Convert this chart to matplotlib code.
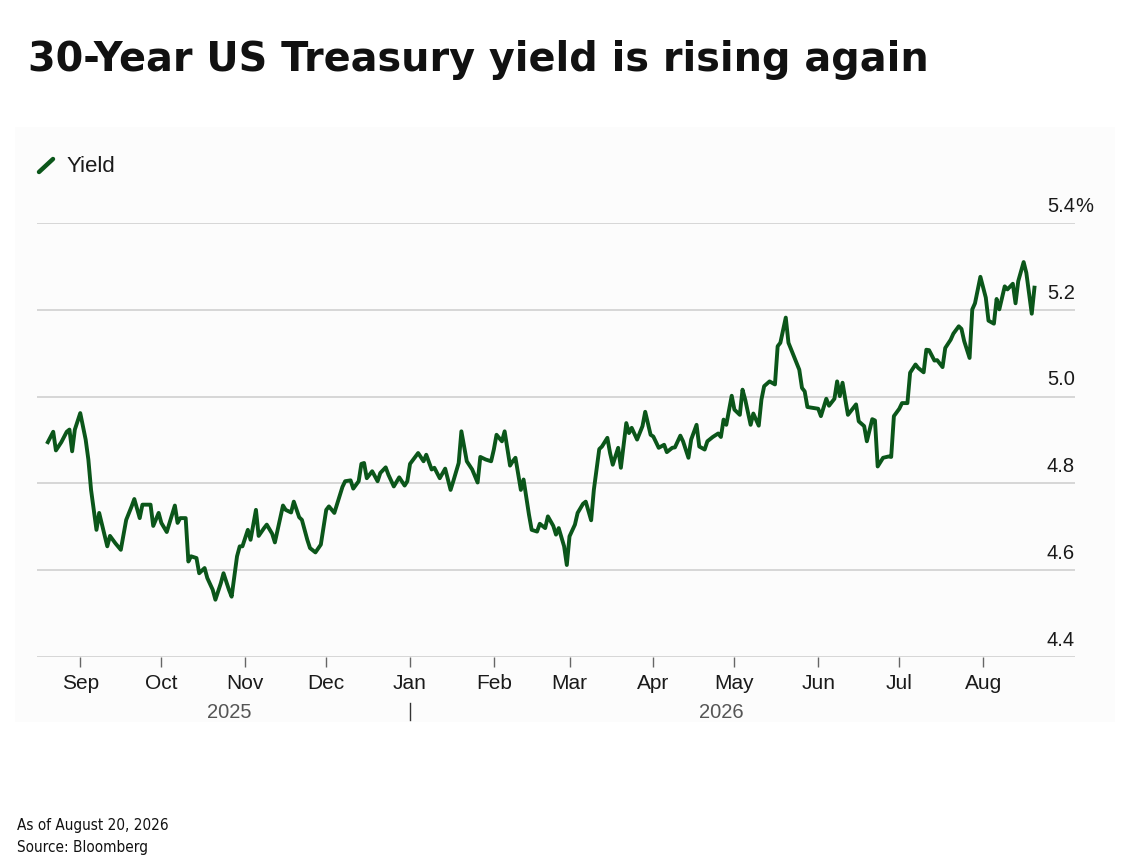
import numpy as np
import matplotlib
matplotlib.use("Agg")
import matplotlib.pyplot as plt
import matplotlib.dates as mdates
import matplotlib.transforms as mtransforms
from matplotlib.lines import Line2D
from matplotlib.patches import Rectangle

# data: days counted from 1 Sep 2025, yield in %
base_date = np.datetime64("2025-09-01")
day_offsets = [
    -12, -10, -9, -7, -5, -4, -3, -2, 0, 2, 3, 4, 6, 7, 10, 11, 13, 15, 17, 19,
    20, 22, 23, 26, 27, 29, 30, 32, 35, 36, 37, 39, 40, 41, 43, 44, 46, 47, 49, 50,
    52, 53, 55, 56, 58, 59, 60, 62, 63,
    65, 66, 68, 69, 71, 72, 75, 76, 78, 79, 81, 82, 84, 85, 87, 89, 91, 92, 94, 97,
    98, 100, 101, 103, 104, 105, 106, 108, 110, 111, 113, 114, 116, 118, 120, 121,
    122, 125, 127, 128, 130, 131, 133, 135, 137,
    138, 140, 141, 143, 145, 147, 148, 150, 152, 153, 154, 156, 157, 159, 160, 161,
    163, 164, 166, 167, 169, 170, 172, 173, 175, 176, 177, 179, 180, 181, 183, 184,
    186, 187, 189, 190, 192, 193, 195, 196, 197, 199, 200, 202, 203, 204, 206, 208,
    209, 211,
    212, 214, 216, 217, 219, 220, 222, 223, 225, 226, 228, 229, 231, 232, 234, 236,
    237, 238, 239, 241, 242, 244, 245, 246, 248, 249, 251, 252, 253, 255, 257, 258,
    259, 261, 262, 264, 266, 267, 268, 269, 271, 273, 274, 276, 277, 279, 280, 281,
    282, 284, 285,
    287, 288, 290, 291, 293, 294, 295, 297, 299, 300, 301, 303, 304, 306, 307, 309,
    310, 312, 313, 314, 316, 317, 319, 320, 322, 323, 325, 326, 327, 329, 330, 331,
    333, 335, 336, 338, 339, 340, 342, 343, 345, 346, 347, 349, 350, 352, 353,
]
yields = [
    4.895, 4.919, 4.876, 4.895, 4.919, 4.924, 4.874, 4.924, 4.962, 4.901, 4.855, 4.785,
    4.693, 4.732, 4.655, 4.679, 4.662, 4.647, 4.716, 4.747, 4.764, 4.720, 4.751, 4.751,
    4.702, 4.732, 4.709, 4.688, 4.749, 4.709, 4.720, 4.720, 4.620, 4.632, 4.628, 4.593,
    4.605, 4.582, 4.555, 4.532, 4.570, 4.593, 4.555, 4.539, 4.632, 4.655, 4.655, 4.693,
    4.670,
    4.739, 4.679, 4.697, 4.705, 4.684, 4.664, 4.749, 4.739, 4.733, 4.758, 4.722, 4.716,
    4.670, 4.651, 4.641, 4.659, 4.739, 4.747, 4.732, 4.792, 4.805, 4.807, 4.788, 4.805,
    4.845, 4.847, 4.812, 4.828, 4.805, 4.824, 4.837, 4.820, 4.793, 4.814, 4.795, 4.805,
    4.845, 4.870, 4.851, 4.866, 4.832, 4.836, 4.812, 4.834, 4.785,
    4.805, 4.847, 4.920, 4.851, 4.832, 4.802, 4.861, 4.855, 4.851, 4.878, 4.912, 4.897,
    4.920, 4.841, 4.851, 4.859, 4.785, 4.809, 4.728, 4.693, 4.689, 4.707, 4.697, 4.724,
    4.702, 4.682, 4.697, 4.655, 4.612, 4.678, 4.705, 4.732, 4.753, 4.758, 4.715, 4.785,
    4.879, 4.885, 4.905, 4.870, 4.843, 4.882, 4.836, 4.939, 4.916, 4.928, 4.901, 4.932,
    4.965, 4.912,
    4.908, 4.882, 4.889, 4.872, 4.882, 4.883, 4.910, 4.897, 4.859, 4.901, 4.935, 4.885,
    4.878, 4.897, 4.907, 4.915, 4.907, 4.947, 4.935, 5.002, 4.970, 4.958, 5.016, 4.993,
    4.935, 4.961, 4.933, 4.993, 5.024, 5.035, 5.028, 5.116, 5.124, 5.182, 5.124, 5.093,
    5.062, 5.020, 5.012, 4.976, 4.974, 4.972, 4.955, 4.995, 4.979, 4.995, 5.035, 5.001,
    5.032, 4.958, 4.966,
    4.982, 4.943, 4.932, 4.897, 4.948, 4.945, 4.839, 4.859, 4.862, 4.861, 4.955, 4.972,
    4.985, 4.985, 5.055, 5.074, 5.066, 5.056, 5.108, 5.107, 5.083, 5.084, 5.068, 5.112,
    5.131, 5.145, 5.162, 5.156, 5.128, 5.089, 5.201, 5.215, 5.276, 5.228, 5.175, 5.168,
    5.225, 5.201, 5.254, 5.247, 5.260, 5.215, 5.266, 5.310, 5.285, 5.191, 5.251,
]
month_ticks = ["2025-09-01", "2025-10-01", "2025-11-01", "2025-12-01", "2026-01-01",
               "2026-02-01", "2026-03-01", "2026-04-01", "2026-05-01", "2026-06-01",
               "2026-07-01", "2026-08-01"]
y_ticks = [4.4, 4.6, 4.8, 5.0, 5.2, 5.4]
years = ["2025", "2026"]

title = "30-Year US Treasury yield is rising again"
footer = ["As of August 20, 2026", "Source: Bloomberg"]

W, H = 1144, 859
GREEN = "#0b561a"
sans = ["Liberation Sans", "DejaVu Sans"]

dates = base_date + np.array(day_offsets).astype("timedelta64[D]")
dates = dates.astype("datetime64[D]").astype(object)

fig = plt.figure(figsize=(W / 100, H / 100), dpi=100)
fig.patch.set_facecolor("white")

# very pale panel behind the chart image
fig.add_artist(Rectangle((15 / W, 1 - 722 / H), 1100 / W, 595 / H,
                         transform=fig.transFigure, facecolor="#fcfcfc",
                         edgecolor="none", zorder=0))

ax = fig.add_axes([37 / W, 1 - 657 / H, (1075 - 37) / W, (657 - 223) / H])
ax.patch.set_alpha(0)
ax.plot(dates, yields, color=GREEN, lw=2.8, solid_joinstyle="round", zorder=3)

x0 = base_date + np.timedelta64(-16, "D")
x1 = base_date + np.timedelta64(368, "D")
ax.set_xlim(x0.astype(object), x1.astype(object))
ax.set_ylim(4.4, 5.4)

for s in ax.spines.values():
    s.set_visible(False)

ax.set_yticks(y_ticks)
ax.yaxis.grid(True, color="#d4d4d4", lw=1.3)
ax.tick_params(axis="y", length=0, labelleft=False, labelright=False)

# right-hand value labels, sitting above each gridline
off = mtransforms.offset_copy(ax.get_yaxis_transform(), fig=fig, x=0, y=8, units="points")
for v in y_ticks:
    ax.text(1.0, v, f"{v:.1f}", transform=off, ha="right", va="baseline",
            fontsize=14.5, family=sans, color="#1a1a1a")
    if v == y_ticks[-1]:
        ax.text(1.0, v, "%", transform=off, ha="left", va="baseline",
                fontsize=14.5, family=sans, color="#1a1a1a")

tick_dates = [np.datetime64(d).astype(object) for d in month_ticks]
ax.set_xticks(tick_dates)
ax.xaxis.set_major_formatter(mdates.DateFormatter("%b"))
ax.tick_params(axis="x", length=7, width=1, color="#666666", pad=5,
               labelsize=15, labelcolor="#1a1a1a")
for lbl in ax.get_xticklabels():
    lbl.set_family(sans)

# year labels and divider
jan1 = np.datetime64("2026-01-01")
d_start = dates[0]
d_end = dates[-1]
mid25 = np.datetime64(d_start) + (jan1 - np.datetime64(d_start)) / 2
mid26 = jan1 + (np.datetime64(d_end) - jan1) / 2
xt = ax.get_xaxis_transform()
for yr, m in zip(years, [mid25, mid26]):
    ax.text(m.astype("datetime64[D]").astype(object), -0.128, yr, transform=xt,
            ha="center", va="center", fontsize=14.5, family=sans, color="#555555")
ax.plot([jan1.astype(object)] * 2, [-0.106, -0.145], transform=xt, color="#333333",
        lw=1, clip_on=False)

# legend
fig.add_artist(Line2D([39 / W, 53 / W], [1 - 172 / H, 1 - 159 / H], color=GREEN,
                      lw=3.2, solid_capstyle="round", transform=fig.transFigure))
fig.text(67 / W, 1 - 172 / H, "Yield", ha="left", va="baseline", fontsize=16,
         family=sans, color="#1a1a1a")

fig.text(28 / W, 1 - 71 / H, title, ha="left", va="baseline", fontsize=28.6,
         fontweight="bold", family="DejaVu Sans", color="#111111")

fig.text(17 / W, 1 - 830 / H, footer[0], ha="left", va="baseline", fontsize=11,
         family="DejaVu Sans", fontstretch="condensed", color="#111111")
fig.text(17 / W, 1 - 852 / H, footer[1], ha="left", va="baseline", fontsize=11,
         family="DejaVu Sans", fontstretch="condensed", color="#111111")

fig.savefig("out.png", dpi=100, facecolor="white")
